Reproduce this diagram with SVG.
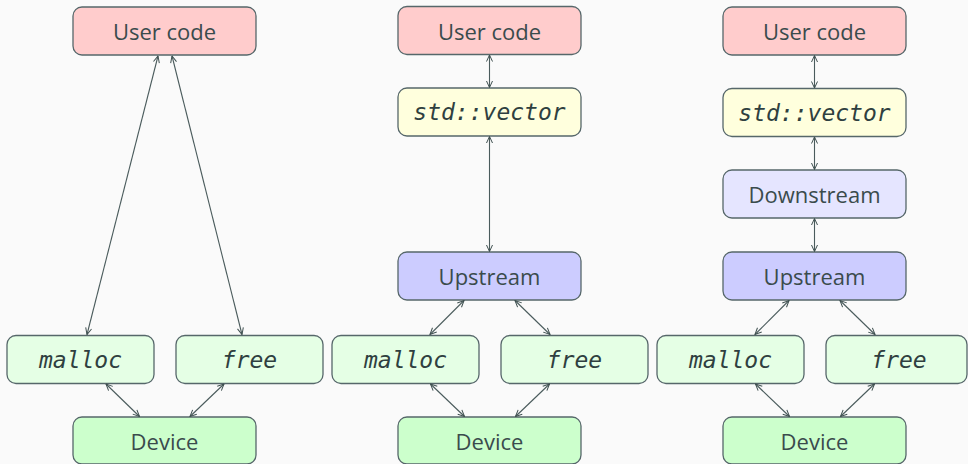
<svg xmlns="http://www.w3.org/2000/svg" width="968" height="464" viewBox="0 0 968 464">
  <defs>
    <marker id="tip" viewBox="0 0 8 8" refX="7.5" refY="4" markerWidth="8" markerHeight="8" markerUnits="userSpaceOnUse" orient="auto-start-reverse">
      <path d="M1,1 L7.5,4 L1,7" fill="none" stroke="#3f5050" stroke-width="1"/>
    </marker>
  </defs>
  <style>
    .box { stroke: #56676a; stroke-width: 1.3; }
    .user { fill: #ffcccc; }
    .vec { fill: #ffffdd; }
    .down { fill: #e5e5ff; }
    .up { fill: #ccccff; }
    .alloc { fill: #e5ffe5; }
    .dev { fill: #ccffcc; }
    .lbl { font-family: "Open Sans", "Noto Sans", sans-serif; font-size: 22px; fill: #3a4b4c; text-anchor: middle; dominant-baseline: central; }
    .code { font-family: "DejaVu Sans Mono", monospace; font-style: italic; font-size: 23px; fill: #2f3f40; text-anchor: middle; dominant-baseline: central; }
    .edge { stroke: #4a5b5c; stroke-width: 1.1; fill: none; marker-start: url(#tip); marker-end: url(#tip); }
  </style>
  <rect width="968" height="464" fill="#fafafa"/>

  <!-- first column: user code talks to malloc/free directly -->
  <g id="c1-user"><rect class="box user" x="73" y="7" width="183" height="48" rx="9"/><text class="lbl" x="164.5" y="31">User code</text></g>
  <g id="c1-malloc"><rect class="box alloc" x="7" y="335.5" width="147" height="48" rx="9"/><text class="code" x="80.5" y="359.5">malloc</text></g>
  <g id="c1-free"><rect class="box alloc" x="176" y="335.5" width="147" height="48" rx="9"/><text class="code" x="249.5" y="359.5">free</text></g>
  <g id="c1-device"><rect class="box dev" x="73" y="417" width="183" height="47" rx="9"/><text class="lbl" x="164.5" y="441">Device</text></g>

  <!-- second column: std::vector over an upstream resource -->
  <g id="c2-user"><rect class="box user" x="398" y="6.5" width="183" height="48" rx="9"/><text class="lbl" x="489.5" y="30.5">User code</text></g>
  <g id="c2-vector"><rect class="box vec" x="398" y="88" width="183" height="48" rx="9"/><text class="code" x="489.5" y="112">std::vector</text></g>
  <g id="c2-upstream"><rect class="box up" x="398" y="252" width="183" height="48" rx="9"/><text class="lbl" x="489.5" y="276">Upstream</text></g>
  <g id="c2-malloc"><rect class="box alloc" x="332" y="335.5" width="147" height="48" rx="9"/><text class="code" x="405.5" y="359.5">malloc</text></g>
  <g id="c2-free"><rect class="box alloc" x="501" y="335.5" width="147" height="48" rx="9"/><text class="code" x="574.5" y="359.5">free</text></g>
  <g id="c2-device"><rect class="box dev" x="398" y="417" width="183" height="47" rx="9"/><text class="lbl" x="489.5" y="441">Device</text></g>

  <!-- third column: downstream resource layered on upstream -->
  <g id="c3-user"><rect class="box user" x="723" y="7" width="183" height="48" rx="9"/><text class="lbl" x="814.5" y="31">User code</text></g>
  <g id="c3-vector"><rect class="box vec" x="723" y="88.5" width="183" height="48" rx="9"/><text class="code" x="814.5" y="112.5">std::vector</text></g>
  <g id="c3-downstream"><rect class="box down" x="723" y="170" width="183" height="48" rx="9"/><text class="lbl" x="814.5" y="194">Downstream</text></g>
  <g id="c3-upstream"><rect class="box up" x="723" y="252" width="183" height="48" rx="9"/><text class="lbl" x="814.5" y="276">Upstream</text></g>
  <g id="c3-malloc"><rect class="box alloc" x="657" y="335.5" width="147" height="48" rx="9"/><text class="code" x="730.5" y="359.5">malloc</text></g>
  <g id="c3-free"><rect class="box alloc" x="826" y="335.5" width="141" height="48" rx="9"/><text class="code" x="899" y="359.5">free</text></g>
  <g id="c3-device"><rect class="box dev" x="723" y="417" width="183" height="47" rx="9"/><text class="lbl" x="814.5" y="441">Device</text></g>

  <g id="connectors">
    <!-- column 1 -->
    <line class="edge" x1="158" y1="56" x2="87" y2="334.5"/>
    <line class="edge" x1="172" y1="56" x2="242" y2="334.5"/>
    <line class="edge" x1="106" y1="384" x2="139.5" y2="416.5"/>
    <line class="edge" x1="224" y1="384" x2="190" y2="416.5"/>
    <!-- column 2 -->
    <line class="edge" x1="489.5" y1="55" x2="489.5" y2="87.5"/>
    <line class="edge" x1="489.5" y1="136.5" x2="489.5" y2="251.5"/>
    <line class="edge" x1="464" y1="300.5" x2="430" y2="334.5"/>
    <line class="edge" x1="515" y1="300.5" x2="550" y2="334.5"/>
    <line class="edge" x1="430.5" y1="384" x2="464.5" y2="416.5"/>
    <line class="edge" x1="549.5" y1="384" x2="515.5" y2="416.5"/>
    <!-- column 3 -->
    <line class="edge" x1="814.5" y1="55.5" x2="814.5" y2="88"/>
    <line class="edge" x1="814.5" y1="137" x2="814.5" y2="169.5"/>
    <line class="edge" x1="814.5" y1="218.5" x2="814.5" y2="251.5"/>
    <line class="edge" x1="789" y1="300.5" x2="755" y2="334.5"/>
    <line class="edge" x1="840" y1="300.5" x2="875" y2="334.5"/>
    <line class="edge" x1="755.5" y1="384" x2="789.5" y2="416.5"/>
    <line class="edge" x1="874.5" y1="384" x2="840.5" y2="416.5"/>
  </g>
</svg>
